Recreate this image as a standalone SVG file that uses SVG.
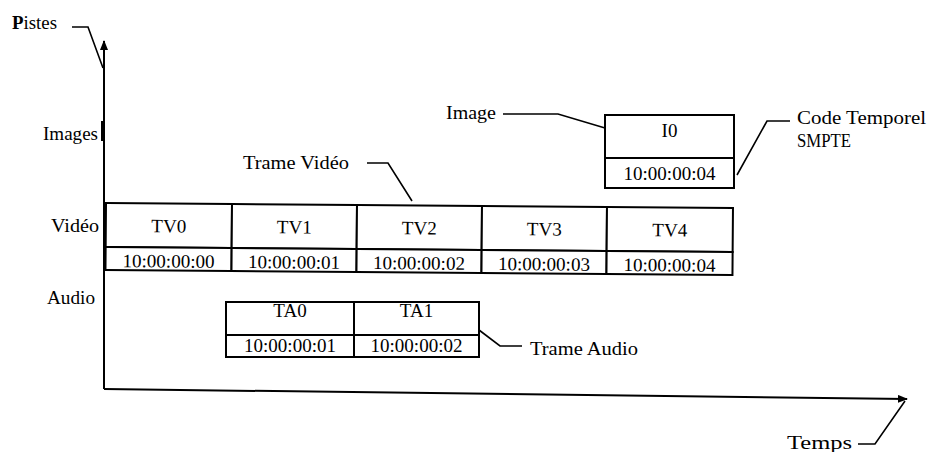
<svg xmlns="http://www.w3.org/2000/svg" width="939" height="452" viewBox="0 0 939 452">
<style>
text{font-family:"Liberation Serif","Times New Roman",serif;font-size:19px;fill:#000}
.c{text-anchor:middle}
.box{fill:#fff;stroke:#000;stroke-width:2}
.ln{fill:none;stroke:#000;stroke-width:2}
.ld{fill:none;stroke:#000;stroke-width:1.6}
</style>
<defs>
<marker id="ah" markerWidth="10" markerHeight="8" refX="9" refY="4" orient="auto" markerUnits="userSpaceOnUse">
<path d="M0,0 L10,4 L0,8 Z" fill="#000"/>
</marker>
</defs>
<g id="axes">
<line class="ln" x1="104" y1="389" x2="104" y2="41" marker-end="url(#ah)"/>
<line class="ln" x1="104" y1="389" x2="907" y2="399" marker-end="url(#ah)"/>
<line class="ln" x1="102" y1="121" x2="102" y2="141"/>
</g>
<g id="connectors">
<polyline class="ld" points="72,27 88,27 103,68"/>
<polyline class="ld" points="905,401 875,444 858,444"/>
<polyline class="ld" points="367,163 388,163 412,201"/>
<polyline class="ld" points="503,114 558,114 605,128"/>
<polyline class="ld" points="737,175 767,121 790,121"/>
<polyline class="ld" points="479,330 500,346 522,346"/>
</g>
<g id="labels">
<text x="12" y="29" textLength="45" lengthAdjust="spacingAndGlyphs"><tspan font-weight="bold">P</tspan>istes</text>
<text x="43" y="140" textLength="55" lengthAdjust="spacingAndGlyphs">Images</text>
<text x="51" y="232" textLength="48" lengthAdjust="spacingAndGlyphs">Vidéo</text>
<text x="47" y="304" textLength="48" lengthAdjust="spacingAndGlyphs">Audio</text>
<text x="446" y="119" textLength="50" lengthAdjust="spacingAndGlyphs">Image</text>
<text x="797" y="124" textLength="129" lengthAdjust="spacingAndGlyphs">Code Temporel</text>
<text x="797" y="147" textLength="54" lengthAdjust="spacingAndGlyphs">SMPTE</text>
<text x="243" y="169" textLength="106" lengthAdjust="spacingAndGlyphs">Trame Vidéo</text>
<text x="530" y="355" textLength="108" lengthAdjust="spacingAndGlyphs">Trame Audio</text>
<text x="787" y="449" textLength="65" lengthAdjust="spacingAndGlyphs">Temps</text>
</g>
<g id="video" transform="rotate(0.45 106 203)">
<g id="tv0"><rect class="box" x="106" y="203" width="126" height="44"/><rect class="box" x="106" y="247" width="126" height="23"/><text class="c" x="169" y="232">TV0</text><text class="c" x="169" y="267">10:00:00:00</text></g>
<g id="tv1"><rect class="box" x="232" y="203" width="125" height="44"/><rect class="box" x="232" y="247" width="125" height="23"/><text class="c" x="294.5" y="232">TV1</text><text class="c" x="294.5" y="267">10:00:00:01</text></g>
<g id="tv2"><rect class="box" x="357" y="203" width="125" height="44"/><rect class="box" x="357" y="247" width="125" height="23"/><text class="c" x="419.5" y="232">TV2</text><text class="c" x="419.5" y="267">10:00:00:02</text></g>
<g id="tv3"><rect class="box" x="482" y="203" width="125" height="44"/><rect class="box" x="482" y="247" width="125" height="23"/><text class="c" x="544.5" y="232">TV3</text><text class="c" x="544.5" y="267">10:00:00:03</text></g>
<g id="tv4"><rect class="box" x="607" y="203" width="126" height="44"/><rect class="box" x="607" y="247" width="126" height="23"/><text class="c" x="670" y="232">TV4</text><text class="c" x="670" y="267">10:00:00:04</text></g>
</g>
<g id="i0"><rect class="box" x="605" y="115" width="129" height="43"/><rect class="box" x="605" y="158" width="129" height="30"/><text class="c" x="669.5" y="137">I0</text><text class="c" x="669.5" y="180">10:00:00:04</text></g>
<g id="ta0"><rect class="box" x="226" y="302" width="128" height="33"/><rect class="box" x="226" y="335" width="128" height="22"/><text class="c" x="290" y="317">TA0</text><text class="c" x="290" y="352">10:00:00:01</text></g>
<g id="ta1"><rect class="box" x="354" y="302" width="125" height="33"/><rect class="box" x="354" y="335" width="125" height="22"/><text class="c" x="416.5" y="317">TA1</text><text class="c" x="416.5" y="352">10:00:00:02</text></g>
</svg>
